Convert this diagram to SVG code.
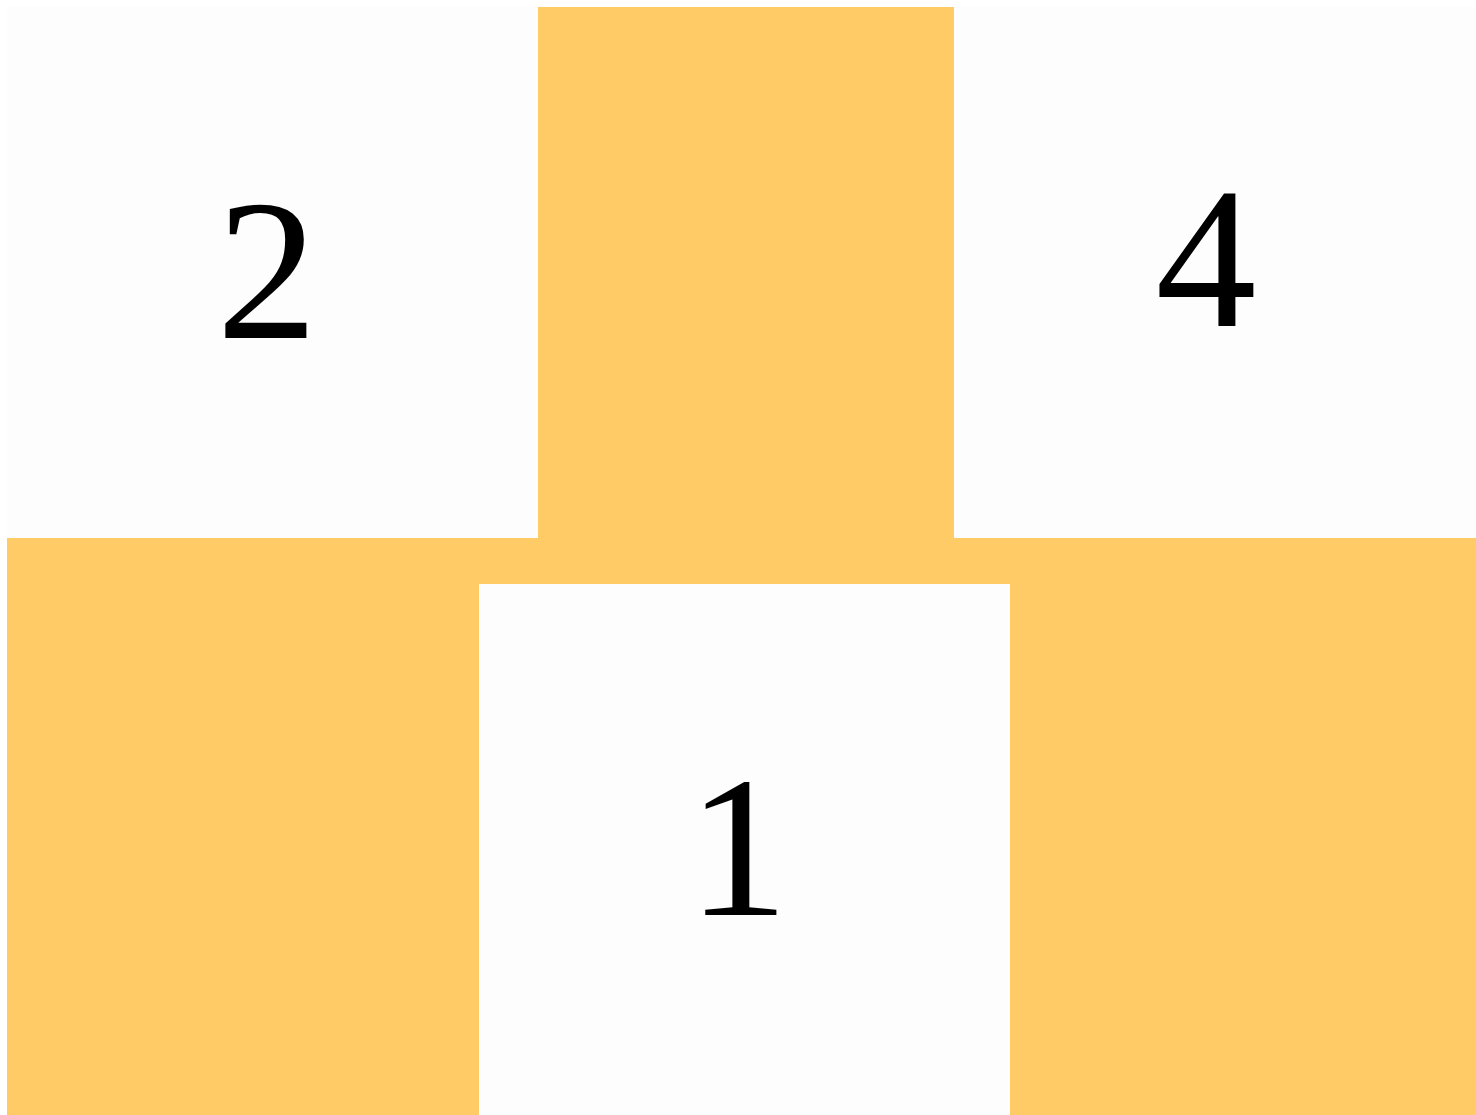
<svg xmlns="http://www.w3.org/2000/svg" width="1476" height="1115" viewBox="0 0 1476 1115">
<style>
.w{fill:#FDFDFD}
.o{fill:#FECB67}
.t{font-family:"Liberation Serif","Times New Roman",serif;font-size:202px;fill:#000;text-anchor:middle}
</style>
<rect width="1476" height="1115" fill="#FFFFFF"/>
<g id="panel-2"><rect class="w" x="7" y="7" width="531" height="531"/><text class="t" x="267" y="338">2</text></g>
<g id="panel-top-center"><rect class="o" x="538" y="7" width="416" height="577"/></g>
<g id="panel-4"><rect class="w" x="954" y="7" width="522" height="531"/><text class="t" x="1206" y="326">4</text></g>
<g id="panel-bottom-left"><rect class="o" x="7" y="538" width="472" height="577"/></g>
<g id="panel-band"><rect class="o" x="479" y="538" width="531" height="46"/></g>
<g id="panel-1"><rect class="w" x="479" y="584" width="531" height="531"/><text class="t" x="738" y="915">1</text></g>
<g id="panel-bottom-right"><rect class="o" x="1010" y="538" width="466" height="577"/></g>
<g id="connectors"/>
</svg>
